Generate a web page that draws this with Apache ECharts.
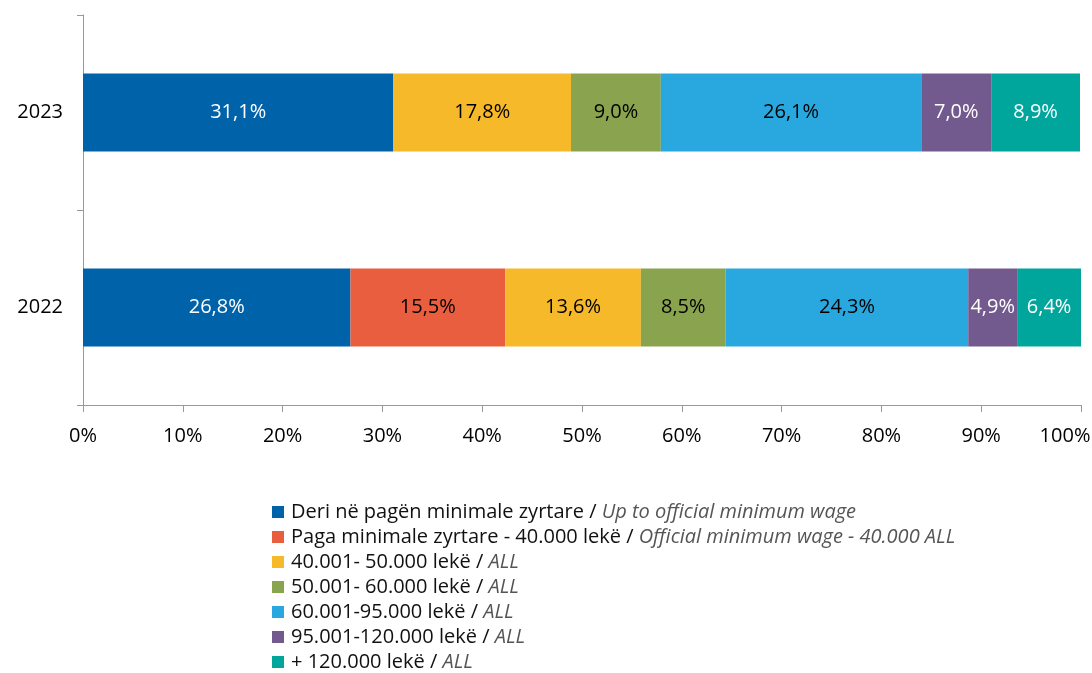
<!DOCTYPE html>
<html>
<head>
<meta charset="utf-8">
<script src="https://cdn.jsdelivr.net/npm/echarts@6/dist/echarts.min.js"></script>
<style>
  html, body { margin: 0; padding: 0; background: #fff; }
  #chart { width: 1092px; height: 673px; }
</style>
</head>
<body>
<div id="chart"></div>
<script>
const years = ['2022', '2023']
const xTicks = [0, 10, 20, 30, 40, 50, 60, 70, 80, 90, 100]

const namesSq = [
  'Deri në pagën minimale zyrtare',
  'Paga minimale zyrtare - 40.000 lekë',
  '40.001- 50.000 lekë',
  '50.001- 60.000 lekë',
  '60.001-95.000 lekë',
  '95.001-120.000 lekë',
  '+ 120.000 lekë'
]
const namesEn = [
  'Up to official minimum wage',
  'Official minimum wage - 40.000 ALL',
  'ALL', 'ALL', 'ALL', 'ALL', 'ALL'
]

// values per band, [2022, 2023]
const upToMin = [26.8, 31.1]
const minTo40 = [15.5, null]
const band40to50 = [13.6, 17.8]
const band50to60 = [8.5, 9.0]
const band60to95 = [24.3, 26.1]
const band95to120 = [4.9, 7.0]
const over120 = [6.4, 8.9]

const values = [upToMin, minTo40, band40to50, band50to60, band60to95, band95to120, over120]
const colors = ['#0063a9', '#e95e3f', '#f6b92a', '#8aa34f', '#29a8e0', '#725a8f', '#00a69c']
const labelColors = ['#fff', '#000', '#000', '#000', '#000', '#fff', '#fff']

const font = 'Open Sans, sans-serif'

const chart = echarts.init(document.getElementById('chart'))

const series = values.map((vals, i) => ({
  name: namesSq[i],
  type: 'bar',
  stack: 'total',
  barWidth: '40%',
  data: vals,
  itemStyle: { color: colors[i] },
  label: {
    show: true,
    position: 'inside',
    color: labelColors[i],
    fontSize: 20,
    fontFamily: font,
    formatter: p => p.value == null ? '' : p.value.toFixed(1).replace('.', ',') + '%'
  }
}))

chart.setOption({
  animation: false,
  grid: { left: 83, right: 11, top: 15, bottom: 268, outerBoundsMode: 'none' },
  xAxis: {
    type: 'value',
    min: 0,
    max: 100,
    interval: 10,
    axisLine: { show: true, lineStyle: { color: '#999' } },
    axisTick: { show: true, length: 7, lineStyle: { color: '#999' } },
    splitLine: { show: false },
    axisLabel: {
      margin: 21,
      color: '#000',
      fontSize: 20,
      fontFamily: font,
      // last label is pushed left so it stays inside the canvas
      formatter: v => !xTicks.includes(v) ? '' : (v === 100 ? '{r|100%}' : v + '%'),
      rich: {
        r: { fontSize: 20, color: '#000', fontFamily: font, padding: [0, 32, 0, 0] }
      }
    }
  },
  yAxis: {
    type: 'category',
    data: years,
    axisLine: { lineStyle: { color: '#999' } },
    axisTick: { show: true, length: 6, lineStyle: { color: '#999' } },
    axisLabel: { margin: 20, color: '#000', fontSize: 20, fontFamily: font }
  },
  legend: {
    orient: 'vertical',
    left: 267,
    top: 497,
    height: 180,
    itemWidth: 12,
    itemHeight: 12,
    itemGap: 5,
    icon: 'rect',
    data: namesSq,
    formatter: name => {
      const i = namesSq.indexOf(name)
      return '{a|' + name + ' / }{b|' + namesEn[i] + '}'
    },
    textStyle: {
      padding: [0, 0, 0, 2],
      rich: {
        a: { fontSize: 20, color: '#111', fontFamily: font },
        b: { fontSize: 20, color: '#555', fontStyle: 'italic', fontFamily: font }
      }
    }
  },
  series
})
</script>
</body>
</html>
